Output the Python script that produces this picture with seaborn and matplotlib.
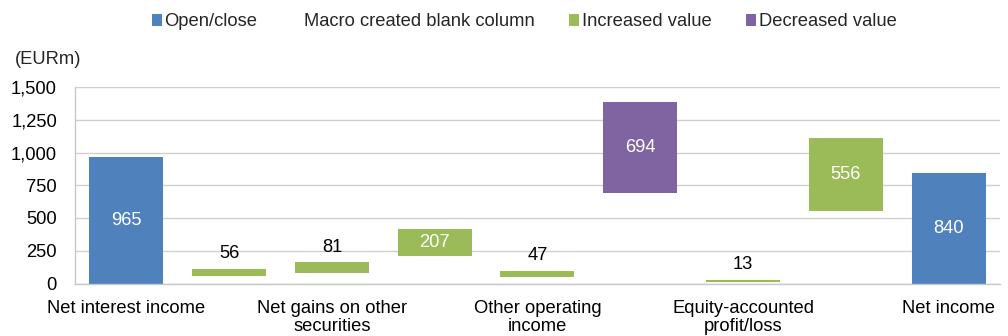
import numpy as np
import pandas as pd
import matplotlib
matplotlib.use("Agg")
import matplotlib.pyplot as plt
import seaborn as sns
from matplotlib.patches import Patch
from matplotlib.ticker import FuncFormatter

# ---- data ----
steps = ["s0", "s1", "s2", "s3", "s4", "s5", "s6", "s7", "s8"]
tick_labels = ["Net interest income", "", "Net gains on other\nsecurities", "",
               "Other operating\nincome", "", "Equity-accounted\nprofit/loss", "",
               "Net income"]
values = [965, 56, 81, 207, 47, 694, 13, 556, 840]
blank = [0, 56, 81, 207, 47, 694, 13, 556, 0]
kinds = ["Open/close", "Increased value", "Increased value", "Increased value",
         "Increased value", "Decreased value", "Increased value", "Increased value",
         "Open/close"]
legend_labels = ["Open/close", "Macro created blank column", "Increased value", "Decreased value"]
y_ticks = [0, 250, 500, 750, 1000, 1250, 1500]

kind_colors = {"Open/close": "#4F81BD", "Macro created blank column": "none",
               "Increased value": "#9BBB59", "Decreased value": "#8064A2"}

sns.set_theme(style="white")
plt.rcParams["font.family"] = ["Liberation Sans", "DejaVu Sans"]
FS = 13.25

fig = plt.figure(figsize=(10.08, 3.36), dpi=100)
ax = fig.add_axes([75 / 1008, 1 - 283.5 / 336, 925 / 1008, (283.5 - 87) / 336])

df = pd.DataFrame({"step": steps, "value": values, "blank": blank, "kind": kinds})
palette = [kind_colors[k] for k in kinds]
sns.barplot(data=df, x="step", y="value", hue="step", palette=palette, dodge=False,
            width=0.72, legend=False, saturation=1, ax=ax, linewidth=0, order=steps,
            hue_order=steps)

# float bars on top of the (invisible) blank column
for patch, b in zip(ax.patches, blank):
    patch.set_y(b)

# data labels
for i, (v, b) in enumerate(zip(values, blank)):
    if v >= 150:
        ax.text(i, b + v / 2, f"{v:,}", ha="center", va="center", color="white", fontsize=FS)
    else:
        ax.annotate(f"{v:,}", xy=(i, b + v), xytext=(0, 11), textcoords="offset points",
                    ha="center", va="center", color="black", fontsize=FS)

ax.set_ylim(0, 1500)
ax.set_xlim(-0.5, 8.5)
ax.set_yticks(y_ticks)
ax.yaxis.set_major_formatter(FuncFormatter(lambda x, p: f"{x:,.0f}"))
ax.set_xticks(range(len(steps)))
ax.set_xticklabels(tick_labels, linespacing=1.1)
ax.tick_params(axis="both", length=0, labelsize=FS, colors="black")
ax.tick_params(axis="y", pad=13)
ax.tick_params(axis="x", pad=12)
ax.set_xlabel("")
ax.set_ylabel("")

ax.yaxis.grid(True, color="#D0D0D0", linewidth=1)
ax.set_axisbelow(True)
for s in ["top", "right"]:
    ax.spines[s].set_visible(False)
for s in ["left", "bottom"]:
    ax.spines[s].set_color("#C8C8C8")
    ax.spines[s].set_linewidth(1)

fig.text(15 / 1008, 1 - 60 / 336, "(EURm)", ha="left", va="center", fontsize=FS)

handles = [Patch(facecolor=kind_colors[l], edgecolor="none") for l in legend_labels]
fig.legend(handles, legend_labels, loc="center", bbox_to_anchor=(0.52, 1 - 22 / 336),
           ncol=4, frameon=False, handlelength=0.55, handleheight=0.55,
           handletextpad=0.15, columnspacing=1.85, fontsize=FS)

fig.savefig("out.png", dpi=100)
